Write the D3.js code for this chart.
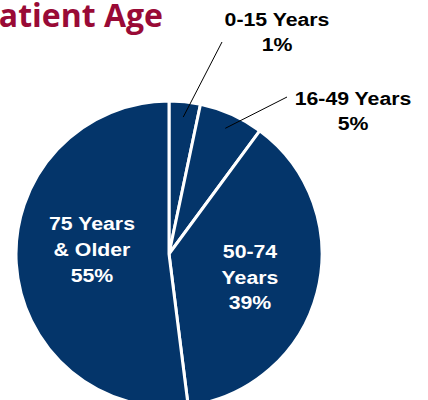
<!DOCTYPE html>
<html>
<head>
<meta charset="utf-8">
<script src="https://cdn.jsdelivr.net/npm/d3@7"></script>
<style>
  body { margin: 0; background: #fff; }
  svg { display: block; }
</style>
</head>
<body>
<svg width="428" height="400"></svg>
<script>
// slice shares as drawn (the printed labels are the rounded report figures)
const groups = ['0-15', '16-49', '50-74', '75+']
const shares = [3.3, 6.8, 37.9, 52.0]
const labelLines = [
  ['0-15 Years', '1%'],
  ['16-49 Years', '5%'],
  ['50-74', 'Years', '39%'],
  ['75 Years', '& Older', '55%']
]

const navy = '#04356a'
const maroon = '#990a36'
const cx = 169
const cy = 254
const r = 153

const svg = d3.select('svg')

svg.append('text')
  .text('Patient Age')
  .attr('x', 163)
  .attr('y', 27)
  .attr('text-anchor', 'end')
  .attr('fill', maroon)
  .attr('style', 'font-family: "Open Sans", sans-serif; font-size: 32px; font-weight: 700')

const pie = d3.pie().sort(null).value(d => d)
const arc = d3.arc().innerRadius(0).outerRadius(r)
const arcs = pie(shares)

const g = svg.append('g')
  .attr('transform', 'translate(' + cx + ',' + cy + ')')

g.selectAll('path')
  .data(arcs)
  .enter()
  .append('path')
  .attr('d', arc)
  .attr('fill', navy)
  .attr('stroke', '#fff')
  .attr('stroke-width', 3)
  .attr('stroke-linejoin', 'round')

// leader lines for the two small slices
const outerPos = [[222, 42], [287, 97]]
arcs.slice(0, 2).forEach((a, i) => {
  let ang = (a.startAngle + a.endAngle) / 2
  let p = [Math.sin(ang) * r * 0.9 + cx, -Math.cos(ang) * r * 0.9 + cy]
  svg.append('line')
    .attr('x1', outerPos[i][0]).attr('y1', outerPos[i][1])
    .attr('x2', p[0]).attr('y2', p[1])
    .attr('stroke', '#000')
    .attr('stroke-width', 1)
})

const labelAt = [[277, 26], [353, 105], [250, 258], [92, 230]]
const lineGap = [25, 25, 25.7, 25.8]
const style = 'font-family: "Liberation Sans", Arial, sans-serif; font-size: 19px; font-weight: 700'

labelLines.forEach((lines, i) => {
  let t = svg.append('g')
    .attr('transform', 'translate(' + labelAt[i][0] + ',' + labelAt[i][1] + ') scale(1.12,1)')
    .append('text')
    .attr('text-anchor', 'middle')
    .attr('fill', i < 2 ? '#000' : '#fff')
    .attr('style', style)
  lines.forEach((s, j) => {
    t.append('tspan')
      .attr('x', 0)
      .attr('y', j * lineGap[i])
      .text(s)
  })
})
</script>
</body>
</html>
